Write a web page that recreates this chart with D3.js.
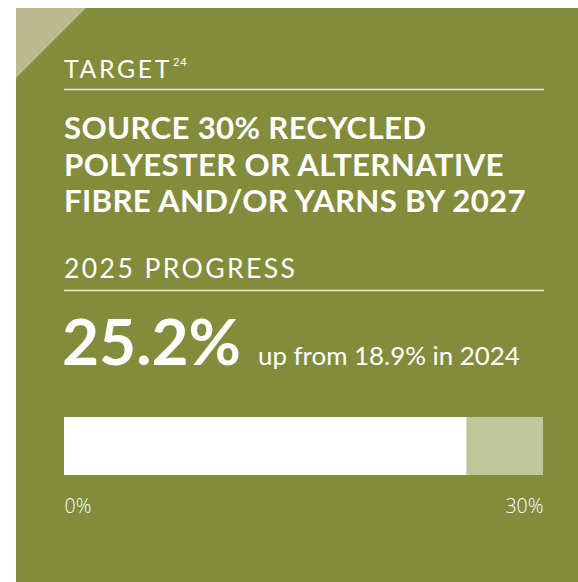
<!DOCTYPE html>
<html>
<head>
<meta charset="utf-8">
<script src="https://cdn.jsdelivr.net/npm/d3@7"></script>
<style>
  html, body { margin: 0; padding: 0; background: #fff; }
  svg { display: block; }
  text { font-family: Lato, "Open Sans", sans-serif; fill: #fff; }
  .tick text { font-family: "Open Sans", sans-serif; font-size: 19.5px; font-weight: 300; fill: #fff; }
</style>
</head>
<body>
<svg id="chart" width="578" height="582"></svg>
<script>
const progress = [25.2]
const previous = [18.9]
const target = [30]
const tickValues = [0, 30]
const titleLines = ['SOURCE 30% RECYCLED', 'POLYESTER OR ALTERNATIVE', 'FIBRE AND/OR YARNS BY 2027']

const svg = d3.select('#chart')
const green = '#838c3b',
    khaki = '#b9ba8e',
    pale = '#c0c69b'

// card with the cut corner
svg.append('rect').attr('x', 16).attr('y', 8).attr('width', 562).attr('height', 574).attr('fill', green)
svg.append('path').attr('d', 'M16,8 L86,8 L16,78 Z').attr('fill', khaki)

// fit a text element to a target width by scaling its font size
let fit = (sel, width) => {
    let node = sel.node(),
        fs = parseFloat(sel.attr('font-size')),
        len = node.getComputedTextLength()
    sel.attr('font-size', fs * width / len)
}

let target_lbl = svg.append('text').attr('x', 64).attr('y', 78)
    .attr('font-size', 22).attr('letter-spacing', 2.6).text('TARGET')
fit(target_lbl, 110)
svg.append('text').attr('x', 173).attr('y', 66)
    .attr('font-size', 11).attr('letter-spacing', 0.8).text('24')

svg.append('line').attr('x1', 64).attr('x2', 544).attr('y1', 89.5).attr('y2', 89.5)
    .attr('stroke', '#e8ebd2').attr('stroke-width', 1.5)

let title = svg.selectAll('text.title').data(titleLines).join('text').attr('class', 'title')
    .attr('x', 64).attr('y', (d, i) => 139 + i * 36.5)
    .attr('font-size', 28).attr('font-weight', 700).attr('letter-spacing', 0.3)
    .text(d => d)
// scale all title lines by the width of the last line
let k = 463 / title.nodes()[2].getComputedTextLength()
title.attr('font-size', 28 * k)

let prog_lbl = svg.append('text').attr('x', 64).attr('y', 278)
    .attr('font-size', 22).attr('letter-spacing', 2.4).text('2025 PROGRESS')
fit(prog_lbl, 240)

svg.append('line').attr('x1', 64).attr('x2', 544).attr('y1', 290.5).attr('y2', 290.5)
    .attr('stroke', '#e8ebd2').attr('stroke-width', 1.5)

let big = svg.append('text').attr('x', 62).attr('y', 365)
    .attr('font-size', 58).attr('font-weight', 700).text(progress[0] + '%')
fit(big, 179)

let sub = svg.append('text').attr('x', 258).attr('y', 365)
    .attr('font-size', 22).text('up from ' + previous[0] + '% in 2024')
fit(sub, 262)

// progress bar
let x = d3.scaleLinear().domain([0, target[0]]).range([64, 543])

svg.append('rect').attr('x', x(0)).attr('y', 417).attr('height', 58)
    .attr('width', x(target[0]) - x(0)).attr('fill', pale)
svg.selectAll('rect.bar').data(progress).join('rect').attr('class', 'bar')
    .attr('x', x(0)).attr('y', 417).attr('height', 58)
    .attr('width', d => x(d) - x(0)).attr('fill', '#fff')

let axis = d3.axisBottom(x).tickValues(tickValues).tickSize(0).tickPadding(0)
    .tickFormat(d => d + '%')
let g = svg.append('g').attr('transform', 'translate(0,497)').call(axis)
g.attr('font-size', null).attr('font-family', null)
g.select('.domain').remove()
g.selectAll('text')
    .attr('dy', null).attr('y', 16)
    .attr('text-anchor', (d, i) => i === 0 ? 'start' : 'end')
</script>
</body>
</html>
